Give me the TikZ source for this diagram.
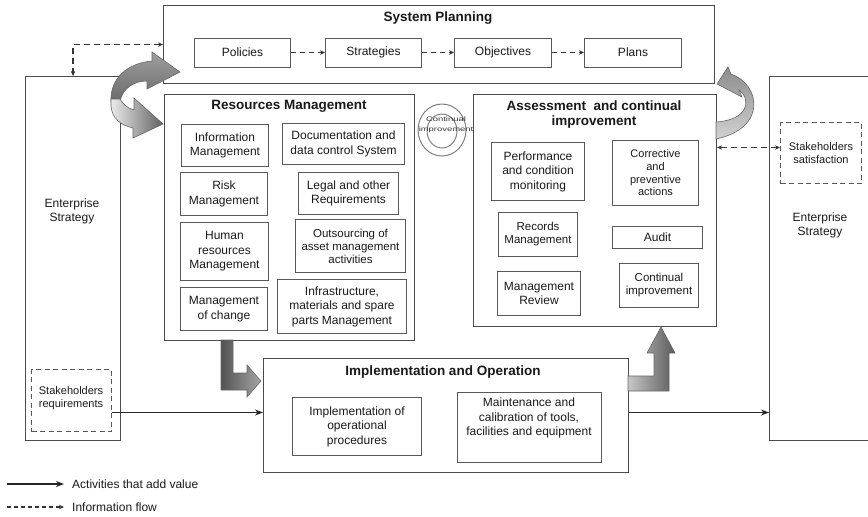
\documentclass[tikz,border=0pt]{standalone}
\usepackage{fontspec}
\usepackage{graphicx}
\setmainfont{Liberation Sans}
\usetikzlibrary{arrows.meta,calc}

\tikzset{
  frame/.style={draw=black!70, line width=1.1pt, anchor=north west, inner sep=0pt},
  box/.style={draw=black!65, line width=1pt, anchor=north west, inner sep=1pt,
    align=center, text=black!90, font=\fontsize{12}{14.5}\selectfont},
  smallbox/.style={box, font=\fontsize{11.5}{13}\selectfont},
  dashbox/.style={box, dash pattern=on 5pt off 3.5pt, font=\fontsize{11}{12.7}\selectfont},
  title/.style={font=\bfseries\fontsize{13.5}{15}\selectfont, align=center, text=black!90},
  plain/.style={align=center, text=black!90, font=\fontsize{12}{14}\selectfont},
  value/.style={line width=1.4pt, draw=black!85, -{Stealth[length=8pt,width=6pt]}},
  infoflow/.style={line width=1.3pt, draw=black!80, dash pattern=on 6pt off 4pt,
    {Stealth[length=5pt,width=4.5pt]}-{Stealth[length=5pt,width=4.5pt]}},
  stepflow/.style={line width=1.1pt, draw=black!80, dash pattern=on 5pt off 4pt,
    -{Stealth[length=5pt,width=4.5pt]}},
  blockarrow/.style={draw=black!60, line width=0.6pt}
}

\begin{document}
\begin{tikzpicture}[x=1pt,y=-1pt]
\useasboundingbox (0,0) rectangle (868,517);

% ---------- outer frames ----------
\node[frame, minimum width=551, minimum height=78] (sp) at (163,5) {};
\node[frame, minimum width=95, minimum height=364] (entL) at (25,76) {};
\node[frame, minimum width=130, minimum height=364] (entR) at (769,76) {};
\node[frame, minimum width=250, minimum height=246] (rm) at (164,94) {};
\node[frame, minimum width=243, minimum height=232] (ac) at (473,94) {};
\node[frame, minimum width=365, minimum height=114] (io) at (263,358) {};

% ---------- titles ----------
\node[title] (tsp) at (438,18) {System Planning};
\node[title] (trm) at (289,106) {Resources Management};
\node[title] (tac) at (594,114.5) {Assessment\ \ and continual\\improvement};
\node[title] (tio) at (443,372) {Implementation and Operation};
\node[plain] (tel) at (72,211) {Enterprise\\Strategy};
\node[plain] (ter) at (820,225) {Enterprise\\Strategy};

% ---------- system planning ----------
\node[box, minimum width=96, minimum height=29] (pol) at (194,37.5) {Policies};
\node[box, minimum width=96, minimum height=29] (str) at (325,37.5) {Strategies};
\node[box, minimum width=97, minimum height=29] (obj) at (454,37.5) {Objectives};
\node[box, minimum width=97, minimum height=29] (pla) at (584,37.5) {Plans};
\draw[stepflow] (pol.east) -- (str.west);
\draw[stepflow] (str.east) -- (obj.west);
\draw[stepflow] (obj.east) -- (pla.west);

% ---------- resources management ----------
\node[box, minimum width=87, minimum height=42] (info) at (181,124) {Information\\Management};
\node[box, minimum width=87, minimum height=43] (risk) at (180,172) {Risk\\Management};
\node[box, minimum width=88, minimum height=58] (hr) at (180,222) {Human\\resources\\Management};
\node[box, minimum width=87, minimum height=43] (moc) at (180,287) {Management\\of change};
\node[box, minimum width=122, minimum height=41] (doc) at (282,123) {Documentation and\\data control System};
\node[box, minimum width=100, minimum height=42] (legal) at (298,172) {Legal and other\\Requirements};
\node[smallbox, minimum width=110, minimum height=53] (outs) at (295,219) {Outsourcing of\\asset management\\activities};
\node[box, minimum width=129, minimum height=54] (infra) at (277,279) {Infrastructure,\\materials and spare\\parts Management};

% ---------- continual improvement emblem ----------
\draw[black!50, line width=1pt] (442,130) ellipse [x radius=24, y radius=26];
\draw[black!50, line width=1pt] (442,131) ellipse [x radius=15, y radius=17];
\node[align=center, inner sep=0pt, text=black!80, font=\fontsize{6.5}{10}\selectfont] (ci) at (446,125)
  {\scalebox{1.45}[1]{Continual}\\\scalebox{1.45}[1]{improvement}};

% ---------- assessment and continual improvement ----------
\node[box, minimum width=93, minimum height=58] (perf) at (491,142) {Performance\\and condition\\monitoring};
\node[box, font=\fontsize{11}{12.7}\selectfont, minimum width=86, minimum height=65] (corr) at (612,140) {Corrective\\and\\preventive\\actions};
\node[smallbox, minimum width=79, minimum height=44] (rec) at (498,212) {Records\\Management};
\node[box, minimum width=90, minimum height=22] (audit) at (612,226) {Audit};
\node[box, font=\fontsize{12}{13.5}\selectfont, minimum width=83, minimum height=44] (mrev) at (497,271) {Management\\Review};
\node[smallbox, minimum width=79, minimum height=44] (cimp) at (619,263) {Continual\\improvement};

% ---------- implementation and operation ----------
\node[box, minimum width=129, minimum height=58] (impl) at (292,397) {Implementation of\\operational\\procedures};
\node[box, minimum width=144, minimum height=70] (maint) at (457,392) {};
\node[plain, font=\fontsize{12}{14.5}\selectfont] (mtext) at (529,418) {Maintenance and\\calibration of tools,\\facilities and equipment};

% ---------- stakeholders ----------
\node[dashbox, minimum width=80, minimum height=62] (sreq) at (31,369) {};
\node[plain, font=\fontsize{11}{12.7}\selectfont] (sreqt) at (71,398) {Stakeholders\\requirements};
\node[dashbox, minimum width=81, minimum height=61] (ssat) at (780,122) {Stakeholders\\satisfaction};

% ---------- information flows ----------
\draw[infoflow] (sp.west) -| (entL.north);
\draw[infoflow] ($(ssat.west)+(0,-5.5)$) coordinate (sf) -- (sf -| ac.east);

% ---------- activities that add value ----------
\draw[value] ($(sreq.east)+(0,12)$) coordinate (av) -- (av -| io.west);
\draw[value] (io.east |- av) -- (av -| entR.west);

% ---------- block arrows ----------
% curved arrow towards system planning
\shadedraw[blockarrow, top color=black!38, bottom color=black!58]
  (111,101) .. controls (110,78) and (128,63) .. (152,61) -- (152,52) -- (180,72)
  -- (147,89) -- (147,81) .. controls (134,81) and (123,88) .. (120,101) -- cycle;
% curved arrow towards resources management
\shadedraw[blockarrow, left color=black!8, right color=black!62]
  (120,99) .. controls (123,104) and (127,108) .. (134,110) -- (134,98) -- (163,124)
  -- (133,138) -- (133,128) .. controls (120,125) and (112,118) .. (111,106) -- (111,99) -- cycle;
% curved arrow from assessment back to planning
\shadedraw[blockarrow, top color=black!45, bottom color=black!18]
  (716,139) .. controls (768,128) and (760,84) .. (731,74) -- (728,67) -- (717,84)
  -- (742,97) -- (739,90) .. controls (752,100) and (748,120) .. (716,122) -- cycle;
% from resources management down to implementation
\shadedraw[blockarrow, left color=black!68, right color=black!35]
  (221,340) -- (233,340) -- (233,373) -- (247,373) -- (247,365) -- (261,381)
  -- (247,397) -- (247,390) -- (221,390) -- cycle;
% from implementation up to assessment
\shadedraw[blockarrow, left color=black!22, right color=black!65]
  (628,376) -- (654,376) -- (654,353) -- (647,353) -- (661,327) -- (675,353)
  -- (669,353) -- (669,391) -- (628,391) -- cycle;

% ---------- legend ----------
\node[plain, anchor=west, inner sep=0pt] (lgA) at (72,484) {Activities that add value};
\node[plain, anchor=west, inner sep=0pt] (lgB) at (72,507) {Information flow};
\coordinate (la) at (7,484);
\coordinate (lb) at (7,507);
\draw[value] (la) -- ($(lgA.west)+(-8,0)$);
\draw[line width=1.2pt, draw=black!80, dash pattern=on 4pt off 3pt, -{Stealth[length=5pt,width=4.5pt]}]
  (lb) -- ($(lgB.west)+(-8,0)$);
\end{tikzpicture}
\end{document}
